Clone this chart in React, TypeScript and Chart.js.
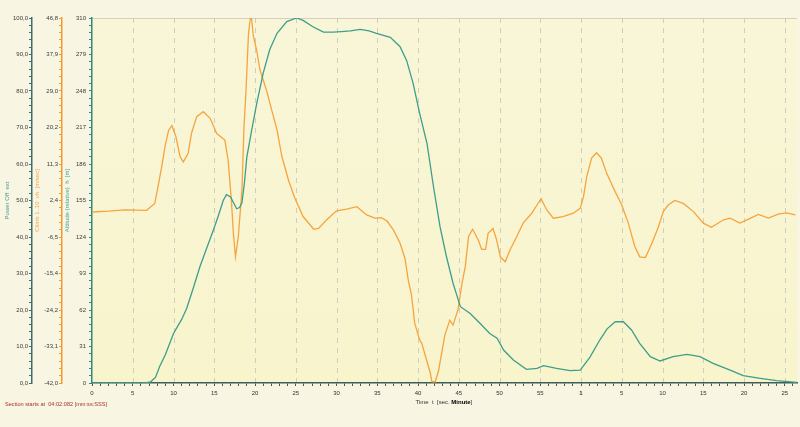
import React, { useEffect, useRef } from 'react';
import { Chart, registerables } from 'chart.js';

Chart.register(...registerables);

// Altitude (relative) h [m] versus time t [s]
const altTimes = [0, 3, 6.5, 7.2, 7.8, 8.3, 9, 10, 11, 11.6, 12.4, 13.25, 14.1, 14.9, 15.5, 16.1, 16.5, 17.0, 17.75, 18.1, 18.4, 18.7, 19.0, 19.6, 20.2, 21.0, 21.8, 22.7, 23.9, 25.1, 25.9, 27.1, 28.4, 29.6, 30.6, 31.7, 32.9, 34.0, 34.9, 36.6, 37.8, 38.6, 39.4, 40.2, 41.1, 41.9, 42.7, 43.5, 44.3, 45.2, 46.4, 47.6, 48.8, 49.7, 50.5, 51.7, 53.3, 54.6, 55.4, 57.0, 58.65, 59.9, 61.1, 62.3, 63.2, 64.2, 65.2, 66.2, 67.2, 68.5, 69.7, 71.3, 73.0, 74.6, 76.2, 78.3, 79.9, 82.0, 84.0, 86.5];
const altValues = [0, 0, 0, 1, 5, 14, 24, 42, 54, 63, 80, 99, 115, 130, 142, 155, 160, 158, 148, 149, 153, 170, 192, 215, 237, 263, 283, 297, 307, 310, 308, 302.6, 298, 298, 298.5, 299, 300.4, 299, 297, 293.6, 285.6, 274, 254.5, 229, 203.6, 166.7, 132.8, 107, 84.7, 64.8, 59, 50.7, 42, 38, 28, 19.5, 11.6, 12.5, 14.7, 12.5, 10.5, 11, 22, 36.5, 46, 52, 52, 45, 33.7, 22.4, 18.7, 22.4, 24.3, 22.4, 16.7, 11, 6.2, 4, 2, 0.6];

// Climb 1..10 vh [m/sec] versus time t [s]
const climbTimes = [0, 2, 4, 6.7, 7.7, 8.1, 8.55, 8.96, 9.4, 9.8, 10.3, 10.8, 11.2, 11.8, 12.2, 12.85, 13.65, 14.5, 15.3, 16.3, 16.7, 17.1, 17.35, 17.6, 17.95, 18.4, 18.65, 18.9, 19.2, 19.5, 19.8, 20.2, 20.6, 21.4, 22.05, 22.7, 23.3, 24.1, 24.9, 25.9, 27.2, 27.8, 28.8, 30.0, 31.25, 32.5, 33.7, 34.7, 35.5, 36.2, 37.0, 37.8, 38.4, 38.8, 39.2, 39.6, 40.2, 40.45, 41.05, 41.5, 41.7, 42.1, 42.5, 42.9, 43.3, 43.9, 44.3, 44.9, 45.4, 45.8, 46.2, 46.7, 47.4, 47.8, 48.3, 48.6, 49.2, 49.65, 50.1, 50.7, 51.3, 52.1, 52.9, 53.95, 54.6, 55.1, 55.8, 56.6, 57.8, 59.05, 59.9, 60.3, 60.7, 61.3, 61.9, 62.5, 63.15, 64.2, 65.0, 65.8, 66.6, 67.2, 67.9, 68.7, 69.5, 70.1, 70.7, 71.5, 72.55, 73.8, 75.0, 76.0, 77.5, 78.3, 79.5, 80.5, 81.75, 83.0, 84.2, 85.2, 86.3];
const climbValues = [-0.4, -0.2, 0.1, 0.0, 1.7, 5.8, 10.6, 15.5, 19.5, 20.6, 17.9, 13.1, 11.8, 13.9, 18.7, 22.8, 24.0, 22.4, 18.7, 17.1, 12.25, 2.5, -5.6, -11.3, -6.4, 5.0, 20.4, 29.3, 43, 48, 42.3, 39, 34.2, 29.3, 24.4, 19.6, 13.1, 7.4, 2.9, -1.5, -4.6, -4.4, -2.3, -0.1, 0.3, 0.9, -1.1, -1.9, -1.8, -2.6, -4.8, -8.0, -11.7, -16.9, -20.6, -27.5, -31.5, -32.3, -36.4, -39.5, -41.7, -41.7, -39.2, -34.8, -30.3, -26.7, -27.9, -24.2, -17.7, -13.7, -6.4, -4.6, -7.2, -9.5, -9.5, -5.6, -4.4, -7.2, -11.3, -12.5, -9.6, -6.4, -3.1, -0.7, 1.3, 2.8, 0.1, -1.9, -1.5, -0.7, 0.5, 3.3, 8.2, 12.7, 14.0, 12.7, 9.0, 4.5, 1.3, -3.1, -8.8, -11.3, -11.5, -8.0, -4.0, -0.3, 1.3, 2.4, 1.7, -0.3, -3.1, -4.1, -2.3, -1.9, -3.1, -2.2, -1.0, -1.9, -0.9, -0.6, -1.1];

const powerTickLabels = ['0,0', '10,0', '20,0', '30,0', '40,0', '50,0', '60,0', '70,0', '80,0', '90,0', '100,0'];
const climbTickLabels = ['-42,0', '-33,1', '-24,2', '-15,4', '-6,5', '2,4', '11,3', '20,2', '29,0', '37,9', '46,8'];
const altTickLabels = ['0', '31', '62', '93', '124', '155', '186', '217', '248', '279', '310'];
const xTickLabels = ['0', '5', '10', '15', '20', '25', '30', '35', '40', '45', '50', '55', '1', '5', '10', '15', '20', '25'];
const xBoldLabelIndex = 12;

const powerRange = [0, 100];
const climbRange = [-42, 46.8];
const altRange = [0, 310];
const xRange = [0, 86.5];

const FONT = '"Liberation Sans", Arial, sans-serif';

function yAxisTicks(range: number[]) {
  const out: { value: number }[] = [];
  for (let i = 0; i <= 50; i++) out.push({ value: range[0] + ((range[1] - range[0]) * i) / 50 });
  return out;
}

function yAxis(range: number[], labels: string[], width: number, lineColor: string, title: string, titleColor: string, titlePad: number, weight: number, tickPad: number, showGridBorder = true) {
  return {
    type: 'linear',
    position: 'left',
    weight,
    min: range[0],
    max: range[1],
    afterBuildTicks: (scale: any) => {
      scale.ticks = yAxisTicks(range);
    },
    afterFit: (scale: any) => {
      scale.width = width;
    },
    grid: {
      drawOnChartArea: false,
      drawTicks: true,
      tickLength: 3,
      tickColor: lineColor,
    },
    border: { display: showGridBorder, color: lineColor, width: 1.5 },
    ticks: {
      autoSkip: false,
      padding: tickPad,
      color: '#3a3a3a',
      font: { family: FONT, size: 6 },
      callback: (_v: any, i: number) => (i % 5 === 0 ? labels[i / 5] : ''),
    },
    title: {
      display: true,
      text: title,
      color: titleColor,
      font: { family: FONT, size: 6 },
      padding: { top: titlePad, bottom: 0 },
    },
  };
}

const bgPlugin = {
  id: 'bgPlugin',
  beforeDraw(chart: any) {
    const { ctx, chartArea: a, width, height } = chart;
    ctx.save();
    ctx.fillStyle = '#f8f6e2';
    ctx.fillRect(0, 0, width, height);
    const g = ctx.createLinearGradient(0, a.top, 0, a.bottom);
    g.addColorStop(0, '#f9f6d8');
    g.addColorStop(1, '#f8f4cc');
    ctx.fillStyle = g;
    ctx.fillRect(a.left, a.top, a.right - a.left, a.bottom - a.top);
    ctx.strokeStyle = '#d4d0bc';
    ctx.lineWidth = 1;
    ctx.beginPath();
    ctx.moveTo(a.left, a.top + 0.5);
    ctx.lineTo(a.right, a.top + 0.5);
    ctx.stroke();
    // dashed vertical grid lines at labelled ticks
    const xs = chart.scales.x;
    ctx.strokeStyle = '#cfcdbd';
    ctx.setLineDash([5, 5]);
    for (let i = 1; i < xTickLabels.length; i++) {
      const px = Math.round(xs.getPixelForValue(i * 5)) + 0.5;
      ctx.beginPath();
      ctx.moveTo(px, a.top);
      ctx.lineTo(px, a.bottom);
      ctx.stroke();
    }
    ctx.restore();
  },
  afterDraw(chart: any) {
    const { ctx, chartArea: a } = chart;
    ctx.save();
    ctx.textBaseline = 'middle';
    ctx.font = `5.6px ${FONT}`;
    ctx.fillStyle = '#a83228';
    ctx.fillText('Section starts at  04:02:082 [mm:ss:SSS]', 5, a.bottom + 21);
    const xs = chart.scales.x;
    let x = xs.getPixelForValue(39.7);
    const y = a.bottom + 19;
    ctx.fillStyle = '#333333';
    ctx.font = `6px ${FONT}`;
    const t1 = 'Time  t  [sec. ';
    ctx.fillText(t1, x, y);
    x += ctx.measureText(t1).width;
    ctx.font = `bold 6px ${FONT}`;
    ctx.fillStyle = '#000000';
    ctx.fillText('Minute', x, y);
    x += ctx.measureText('Minute').width;
    ctx.font = `6px ${FONT}`;
    ctx.fillStyle = '#333333';
    ctx.fillText(']', x, y);
    ctx.restore();
  },
};

export default function App() {
  const ref = useRef<HTMLCanvasElement | null>(null);
  useEffect(() => {
    if (!ref.current) return;
    const chart = new Chart(ref.current, {
      type: 'line',
      data: {
        datasets: [
          {
            label: 'Altitude',
            data: altTimes.map((t, i) => ({ x: t, y: altValues[i] })),
            yAxisID: 'alt',
            borderColor: '#3d9e8c',
            borderWidth: 1.3,
            pointRadius: 0,
            tension: 0,
          },
          {
            label: 'Climb',
            data: climbTimes.map((t, i) => ({ x: t, y: climbValues[i] })),
            yAxisID: 'climb',
            borderColor: '#f6a43e',
            borderWidth: 1.3,
            pointRadius: 0,
            tension: 0,
          },
        ],
      },
      options: {
        responsive: false,
        animation: false,
        devicePixelRatio: 1,
        layout: { padding: { top: 18, right: 3, left: 0, bottom: 0 } },
        plugins: { legend: { display: false }, tooltip: { enabled: false } },
        scales: {
          x: {
            type: 'linear',
            position: 'bottom',
            min: xRange[0],
            max: xRange[1],
            afterBuildTicks: (scale: any) => {
              const t: { value: number }[] = [];
              for (let i = 0; i <= 86; i++) t.push({ value: i });
              scale.ticks = t;
            },
            afterFit: (scale: any) => {
              scale.height = 44;
            },
            grid: { drawOnChartArea: false, tickLength: 3, tickColor: '#3d5d5a' },
            border: { color: '#3d5d5a', width: 1.5 },
            ticks: {
              autoSkip: false,
              maxRotation: 0,
              padding: 4,
              color: '#333333',
              font: (ctx: any) =>
                ctx.index === xBoldLabelIndex * 5
                  ? { family: FONT, size: 6, weight: 'bold' }
                  : { family: FONT, size: 6 },
              callback: (_v: any, i: number) => (i % 5 === 0 ? xTickLabels[i / 5] : ''),
            },
          },
          alt: yAxis(altRange, altTickLabels, 30, '#2e8a7e', 'Altitude (relative)  h  [m]', '#3aa6a0', 1.4, 1, 3),
          climb: yAxis(climbRange, climbTickLabels, 30, '#f29a2e', 'Climb 1..10  vh  [m/sec]', '#f5a648', 1.4, 2, 1),
          power: yAxis(powerRange, powerTickLabels, 32, '#3b6e6c', 'Power Off  ext', '#4e9a98', 3.4, 3, 1),
        },
      } as any,
      plugins: [bgPlugin],
    });
    return () => chart.destroy();
  }, []);
  return (
    <div style={{ position: 'fixed', left: 0, top: 0, width: 800, height: 427, background: '#f8f6e2' }}>
      <canvas ref={ref} width={800} height={427} style={{ display: 'block' }} />
    </div>
  );
}
